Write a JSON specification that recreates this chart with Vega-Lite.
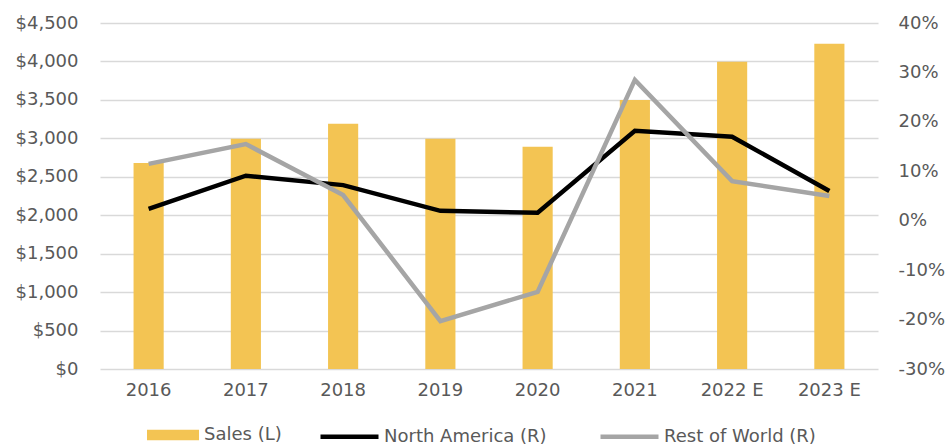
{
  "$schema": "https://vega.github.io/schema/vega-lite/v6.json",
  "width": 778,
  "height": 346,
  "autosize": "none",
  "padding": {"left": 100, "top": 23, "right": 73, "bottom": 76},
  "background": "white",
  "config": {
    "font": "DejaVu Sans",
    "view": {"stroke": null},
    "axis": {"labelFont": "DejaVu Sans", "labelFontSize": 18, "labelColor": "#595959", "domain": false, "ticks": false, "title": null},
    "legend": {"labelFont": "DejaVu Sans", "labelFontSize": 18, "labelColor": "#595959", "labelLimit": 400}
  },
  "datasets": {
    "sales": [
      {"year": "2016", "sales": 2680},
      {"year": "2017", "sales": 2995},
      {"year": "2018", "sales": 3190},
      {"year": "2019", "sales": 2995},
      {"year": "2020", "sales": 2890},
      {"year": "2021", "sales": 3500},
      {"year": "2022 E", "sales": 3995},
      {"year": "2023 E", "sales": 4230}
    ],
    "growth": [
      {"year": "2016", "series": "North America (R)", "value": 0.024},
      {"year": "2017", "series": "North America (R)", "value": 0.091},
      {"year": "2018", "series": "North America (R)", "value": 0.072},
      {"year": "2019", "series": "North America (R)", "value": 0.020},
      {"year": "2020", "series": "North America (R)", "value": 0.016},
      {"year": "2021", "series": "North America (R)", "value": 0.182},
      {"year": "2022 E", "series": "North America (R)", "value": 0.170},
      {"year": "2023 E", "series": "North America (R)", "value": 0.060},
      {"year": "2016", "series": "Rest of World (R)", "value": 0.115},
      {"year": "2017", "series": "Rest of World (R)", "value": 0.155},
      {"year": "2018", "series": "Rest of World (R)", "value": 0.052},
      {"year": "2019", "series": "Rest of World (R)", "value": -0.203},
      {"year": "2020", "series": "Rest of World (R)", "value": -0.144},
      {"year": "2021", "series": "Rest of World (R)", "value": 0.285},
      {"year": "2022 E", "series": "Rest of World (R)", "value": 0.080},
      {"year": "2023 E", "series": "Rest of World (R)", "value": 0.050}
    ]
  },
  "encoding": {
    "x": {
      "field": "year",
      "type": "nominal",
      "sort": ["2016", "2017", "2018", "2019", "2020", "2021", "2022 E", "2023 E"],
      "scale": {"paddingInner": 0.69, "paddingOuter": 0.345},
      "axis": {"labelAngle": 0, "labelPadding": 12, "grid": false}
    }
  },
  "layer": [
    {
      "data": {"name": "sales"},
      "mark": {"type": "bar"},
      "encoding": {
        "y": {
          "field": "sales",
          "type": "quantitative",
          "scale": {"domain": [0, 4500], "nice": false},
          "axis": {"values": [0, 500, 1000, 1500, 2000, 2500, 3000, 3500, 4000, 4500], "format": "$,.0f", "labelPadding": 22, "grid": true, "gridColor": "#D9D9D9", "gridWidth": 1.5}
        },
        "fill": {
          "datum": "Sales (L)",
          "type": "nominal",
          "scale": {"domain": ["Sales (L)"], "range": ["#F3C453"]},
          "legend": {"title": null, "orient": "none", "direction": "horizontal", "legendX": 47, "legendY": 386, "symbolType": "M-1,-0.2H1V0.2H-1Z", "symbolSize": 2704, "symbolStrokeWidth": 0, "labelOffset": 5}
        }
      }
    },
    {
      "data": {"name": "growth"},
      "mark": {"type": "line", "strokeWidth": 4.5},
      "encoding": {
        "y": {
          "field": "value",
          "type": "quantitative",
          "scale": {"domain": [-0.3, 0.4], "nice": false, "zero": false},
          "axis": {"orient": "right", "values": [-0.3, -0.2, -0.1, 0, 0.1, 0.2, 0.3, 0.4], "labelExpr": "replace(format(datum.value, '.0%'), '\u2212', '-')", "labelPadding": 20, "grid": false}
        },
        "stroke": {
          "field": "series",
          "type": "nominal",
          "scale": {"domain": ["North America (R)", "Rest of World (R)"], "range": ["#000000", "#A5A5A5"]},
          "legend": {"title": null, "orient": "none", "direction": "horizontal", "legendX": 218, "legendY": 382, "symbolType": "stroke", "symbolSize": 3364, "symbolStrokeWidth": 4.5, "labelOffset": 3, "columnPadding": 44}
        }
      }
    }
  ],
  "resolve": {"scale": {"y": "independent"}}
}
